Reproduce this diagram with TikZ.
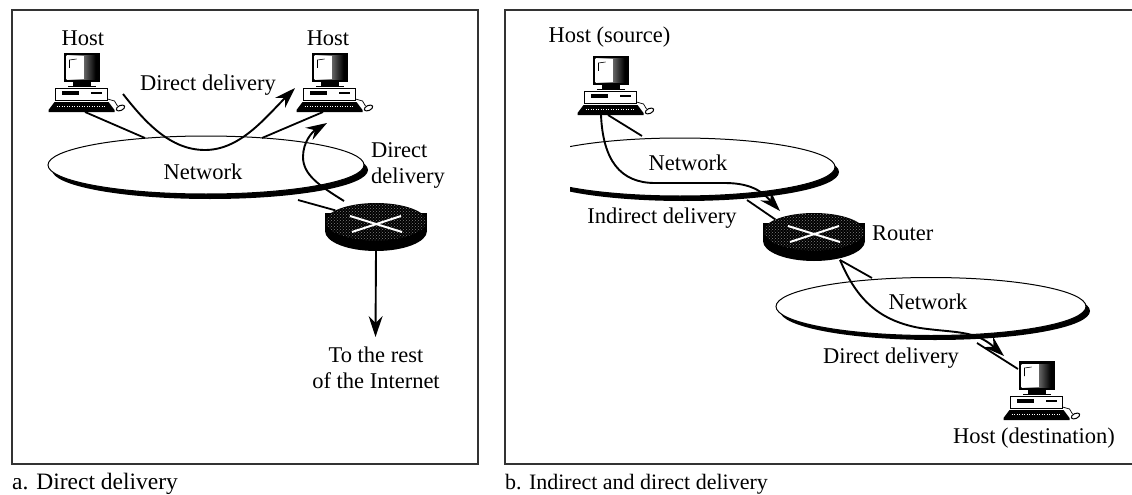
\documentclass[tikz,border=0pt]{standalone}
\usepackage{fontspec}
\setmainfont{Liberation Serif}
\usetikzlibrary{arrows.meta,patterns,shapes.geometric}
\tikzset{
    netcloud/.style={ellipse,draw,fill=white,line width=1pt,inner sep=0pt,outer sep=0pt,minimum width=310pt,minimum height=58pt},
    netshadow/.style={ellipse,fill=black,inner sep=0pt,outer sep=0pt,minimum width=310pt,minimum height=58pt},
    link/.style={line width=1.8pt},
    deliver/.style={line width=1.9pt,-{Stealth[length=21pt,width=14pt,inset=7pt]}},
    frameline/.style={line width=1.1pt,black!80},
    lbl/.style={inner sep=0pt,font=\fontsize{22.5}{26}\selectfont},
    captxt/.style={inner sep=0pt,anchor=west,font=\fontsize{23.5}{26}\selectfont},
    host/.pic={
        \fill[black] (-18,-29) rectangle (18,0);
        \shade[left color=white,right color=black,shading angle=90] (-15,-26) rectangle (14,-3);
        \fill[white] (-15,-26) rectangle (2,-3);
        \draw[line width=.6pt] (-12,-14) -- (-12,-22) -- (-5,-23);
        \fill[black] (-9,0) rectangle (9,4);
        \fill[black] (-14,3.5) rectangle (14,5);
        \draw[line width=1pt,fill=white] (-26,6) rectangle (26,18);
        \fill[black] (-20,9) rectangle (-3,13);
        \fill[black] (9,10) rectangle (20,12);
        \fill[black] (-27,20) -- (27,20) -- (33,28) -- (33,30) -- (-33,30) -- (-33,28) -- cycle;
        \draw[white,line width=1pt,dash pattern=on 1pt off 1.5pt] (-25,24) -- (25,24);
        \draw[line width=.7pt] (26,17) -- (33,19) -- (36,24);
        \draw[line width=1pt,fill=white,rotate around={25:(39,26)}] (39,26) ellipse (4.5 and 2.5);
    },
    router/.pic={
        \fill[black] (-51,-10) rectangle (51,8);
        \fill[black] (0,8) ellipse (51 and 20);
        \node[ellipse,fill=black,inner sep=0pt,minimum width=102pt,minimum height=38pt] (-top) at (0,-1) {};
        \fill[pattern=crosshatch dots,pattern color=white!50!black] (0,-1) ellipse (50 and 18.5);
        \draw[white,line width=2pt] (-26,-7) -- (26,9);
        \draw[white,line width=2pt] (-24,9) -- (25,-7);
        \coordinate (-base) at (0,28);
    },
}
\begin{document}
\begin{tikzpicture}[x=1pt,y=-1pt]
    \useasboundingbox (0,0) rectangle (1132,495);
    % frames
    \draw[frameline] (12,10) rectangle (478,464);
    \draw[frameline] (1132,10) -- (505,10) -- (505,464) -- (1132,464);
    % panel a
    \coordinate (hostA) at (81.5,82);
    \coordinate (hostB) at (329.5,82);
    \pic at (hostA) {host};
    \pic at (hostB) {host};
    \node[netshadow,minimum width=316pt] at (210,170) {};
    \node[netcloud,minimum width=316pt] (netL) at (206,165) {};
    \pic (routerL) at (376,223) {router};
    \coordinate (hostAport) at (85,112);
    \coordinate (hostBport) at (323,112);
    \coordinate (netLa) at (145,138);
    \coordinate (netLb) at (262,138);
    \coordinate (netLc) at (298,200);
    \coordinate (sendL) at (123,94);
    \coordinate (tipL) at (295,88);
    \coordinate (sendR) at (344,201);
    \coordinate (tipR) at (327,123);
    \coordinate (restL) at (375.5,337);
    \draw[link] (hostAport) -- (netLa);
    \draw[link] (hostBport) -- (netLb);
    \draw[link] (netLc) -- (routerL-top.164);
    \draw[deliver] (sendL) .. controls (145,122) and (170,150) .. (205,150) .. controls (240,150) and (265,118) .. (tipL);
    \draw[deliver] (sendR) .. controls (320,186) and (303,175) .. (303,157) .. controls (303,142) and (312,132) .. (tipR);
    \draw[deliver] (routerL-base) -- (restL);
    \node[lbl] (hostAtxt) at (83,38) {Host};
    \node[lbl] (hostBtxt) at (328,38) {Host};
    \node[lbl] (directA) at (208,85) {Direct delivery};
    \node[lbl] (netLtxt) at (203,172) {Network};
    \node[lbl,anchor=west,align=left] (directB) at (371,165) {Direct\\delivery};
    \node[lbl,align=center] (restTxt) at (376,368) {To the rest\\of the Internet};
    \node[captxt] (capA) at (12,484) {a. Direct delivery};
    % panel b
    \coordinate (hostC) at (610.5,85);
    \coordinate (hostD) at (1036.5,390);
    \pic at (hostC) {host};
    \pic at (hostD) {host};
    \begin{scope}
        \clip (570,100) rectangle (900,230);
        \node[netshadow] at (684,172) {};
        \node[netcloud] (netM) at (680,167) {};
    \end{scope}
    \node[netshadow] at (935,311) {};
    \node[netcloud] (netR) at (931,306.5) {};
    \pic (routerR) at (814,233) {router};
    \coordinate (hostCa) at (608,115);
    \coordinate (hostCb) at (601,115);
    \coordinate (netMa) at (642,136);
    \coordinate (netMb) at (747,200);
    \coordinate (tipM) at (780,211);
    \coordinate (routerRb) at (840,260);
    \coordinate (netRa) at (872,278);
    \coordinate (netRb) at (977,343);
    \coordinate (tipD) at (1004,356);
    \coordinate (hostDport) at (1018,369);
    \draw[link] (hostCa) -- (netMa);
    \draw[link] (netMb) -- (routerR-top.162);
    \draw[link] (routerRb) -- (netRa);
    \draw[link] (netRb) -- (hostDport);
    \draw[deliver] (hostCb) .. controls (603,160) and (620,183) .. (655,183) -- (725,183) .. controls (755,183) and (765,195) .. (tipM);
    \draw[deliver] (routerRb) .. controls (855,295) and (875,320) .. (920,328) .. controls (955,333) and (975,330) .. (tipD);
    \node[lbl] (hostCtxt) at (609.5,37) {Host (source)};
    \node[lbl] (netMtxt) at (688,163) {Network};
    \node[lbl] (indirect) at (662,218) {Indirect delivery};
    \node[lbl,anchor=west] (routerTxt) at (872,233) {Router};
    \node[lbl] (netRtxt) at (928,302) {Network};
    \node[lbl] (directC) at (891,358) {Direct delivery};
    \node[lbl] (hostDtxt) at (1034,438) {Host (destination)};
    \node[captxt,font=\fontsize{22}{26}\selectfont] (capB) at (505,484) {b. Indirect and direct delivery};
\end{tikzpicture}
\end{document}
